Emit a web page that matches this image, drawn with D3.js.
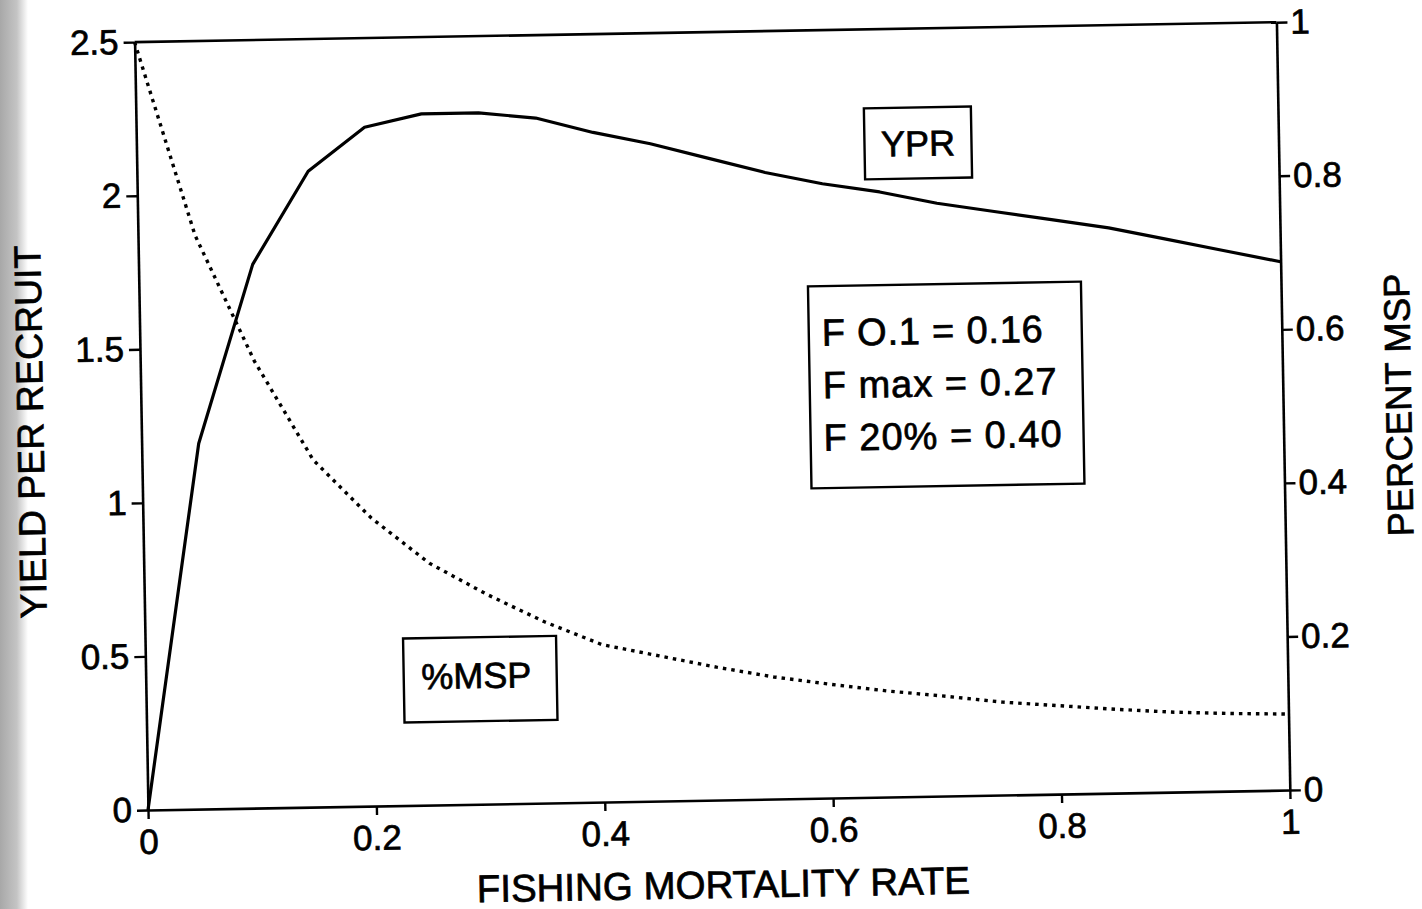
<!DOCTYPE html>
<html>
<head>
<meta charset="utf-8">
<script src="https://cdn.jsdelivr.net/npm/d3@7"></script>
<style>
  html, body { margin: 0; padding: 0; background: #fff; }
  svg { display: block; }
  text { font-family: "Liberation Sans", Arial, Helvetica, sans-serif; fill: #000; stroke: #000; stroke-width: 0.7px; }
</style>
</head>
<body>
<svg id="chart" width="1422" height="909"></svg>
<script>
// Fishing mortality grid (F) and the two curves computed on it
const fishingMortality = [0, 0.05, 0.10, 0.15, 0.20, 0.25, 0.30, 0.35, 0.40, 0.45, 0.50,
                          0.55, 0.60, 0.65, 0.70, 0.75, 0.80, 0.85, 0.90, 0.95, 1.00];
const yieldPerRecruit = [0, 1.19, 1.77, 2.07, 2.21, 2.25, 2.25, 2.23, 2.18, 2.14, 2.09,
                         2.04, 2.00, 1.97, 1.93, 1.90, 1.87, 1.84, 1.80, 1.76, 1.72];
const percentMSP = [1.00, 0.747, 0.582, 0.452, 0.375, 0.315, 0.273, 0.236, 0.205, 0.189, 0.173,
                    0.159, 0.148, 0.138, 0.130, 0.121, 0.115, 0.109, 0.104, 0.101, 0.099];

// Axis ticks
const xTicks = [0, 0.2, 0.4, 0.6, 0.8, 1];
const leftTicks = [0, 0.5, 1, 1.5, 2, 2.5];
const rightTicks = [0, 0.2, 0.4, 0.6, 0.8, 1];

// Reference points box
const refLines = ["F O.1 = 0.16", "F max = 0.27", "F 20% = 0.40"];

const svg = d3.select("#chart");

// shaded page edge on the left
const defs = svg.append("defs");
const grad = defs.append("linearGradient").attr("id", "edge").attr("x1", 0).attr("x2", 1);
grad.append("stop").attr("offset", 0).attr("stop-color", "#a8a8a8");
grad.append("stop").attr("offset", 0.6).attr("stop-color", "#c4c4c4");
grad.append("stop").attr("offset", 1).attr("stop-color", "#ffffff");
svg.append("rect").attr("x", 0).attr("y", 0).attr("width", 28).attr("height", 909)
  .attr("fill", "url(#edge)");

const L = 148, R = 1290, T = 42, B = 810;
const x = d3.scaleLinear().domain([0, 1]).range([L, R]);
const yL = d3.scaleLinear().domain([0, 2.5]).range([B, T]);
const yR = d3.scaleLinear().domain([0, 1]).range([B, T]);

// the printed page sits slightly tilted
const g = svg.append("g").attr("transform", `rotate(-1, ${L}, ${B})`);

const fmt = d => d3.format("~g")(d);
const tickFont = 35;

function styleAxis(sel) {
  sel.selectAll("path.domain").attr("stroke", "#000").attr("stroke-width", 2.6);
  sel.selectAll(".tick line").attr("stroke", "#000").attr("stroke-width", 2.4);
  sel.selectAll(".tick text").style("font-size", tickFont + "px")
    .style("font-family", '"Liberation Sans", Arial, sans-serif')
    .attr("fill", "#000").attr("stroke", "#000").attr("stroke-width", 0.7);
}

// bottom axis
const gx = g.append("g").attr("transform", `translate(0,${B})`)
  .call(d3.axisBottom(x).tickValues(xTicks).tickFormat(fmt).tickSize(9).tickSizeOuter(0).tickPadding(10));
styleAxis(gx);

// left axis
const gl = g.append("g").attr("transform", `translate(${L},0)`)
  .call(d3.axisLeft(yL).tickValues(leftTicks).tickFormat(fmt).tickSize(11).tickSizeOuter(0).tickPadding(5));
styleAxis(gl);

// right axis
const gr = g.append("g").attr("transform", `translate(${R},0)`)
  .call(d3.axisRight(yR).tickValues(rightTicks).tickFormat(fmt).tickSize(11).tickSizeOuter(0).tickPadding(3));
styleAxis(gr);

// top frame line
g.append("line").attr("x1", L).attr("x2", R).attr("y1", T).attr("y2", T)
  .attr("stroke", "#000").attr("stroke-width", 2.6);

// YPR curve (solid)
const lineYPR = d3.line().x((d, i) => x(fishingMortality[i])).y(d => yL(d));
g.append("path").datum(yieldPerRecruit).attr("d", lineYPR)
  .attr("fill", "none").attr("stroke", "#000").attr("stroke-width", 3.2).attr("stroke-linejoin", "round");

// %MSP curve (dotted, right axis)
const lineMSP = d3.line().x((d, i) => x(fishingMortality[i])).y(d => yR(d));
g.append("path").datum(percentMSP).attr("d", lineMSP)
  .attr("fill", "none").attr("stroke", "#000").attr("stroke-width", 3.4)
  .attr("stroke-dasharray", "3.5,5");

// axis titles
g.append("text").attr("x", 722).attr("y", 908).attr("text-anchor", "middle")
  .style("font-size", "38.5px").text("FISHING MORTALITY RATE");
g.append("text").attr("transform", "translate(50,430) rotate(-90)").attr("text-anchor", "middle")
  .style("font-size", "37.5px").text("YIELD PER RECRUIT");
g.append("text").attr("transform", "translate(1418,427) rotate(-90)").attr("text-anchor", "middle")
  .style("font-size", "36.5px").text("PERCENT MSP");

// labelled boxes
function box(x0, y0, w, h) {
  g.append("rect").attr("x", x0).attr("y", y0).attr("width", w).attr("height", h)
    .attr("fill", "#fff").attr("stroke", "#000").attr("stroke-width", 2.4);
}

box(876, 121, 107, 71);
g.append("text").attr("x", 876 + 107 / 2).attr("y", 121 + 35.5).attr("dy", "0.36em")
  .attr("text-anchor", "middle").style("font-size", "36px").text("YPR");

box(406, 643, 153, 84);
g.append("text").attr("x", 406 + 153 / 2 - 4).attr("y", 643 + 38).attr("dy", "0.36em")
  .attr("text-anchor", "middle").style("font-size", "36px").text("%MSP");

box(817, 298, 273, 202);
const refWidths = [221, 234, 238];
refLines.forEach((t, i) => {
  g.append("text").attr("x", 830).attr("y", 344 + i * 52.5).attr("dy", "0.36em")
    .style("font-size", "38px").attr("textLength", refWidths[i]).text(t);
});
</script>
</body>
</html>
